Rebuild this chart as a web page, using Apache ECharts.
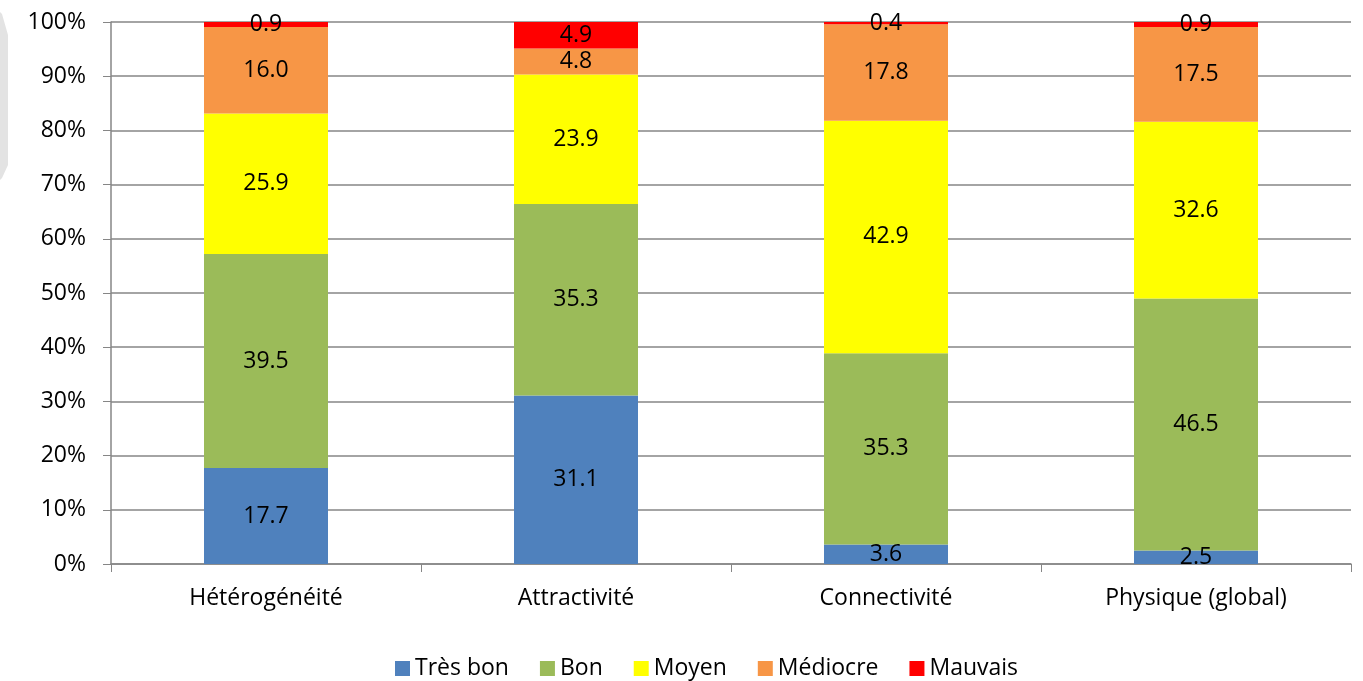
<!DOCTYPE html>
<html>
<head>
<meta charset="utf-8">
<script src="https://cdn.jsdelivr.net/npm/echarts@6/dist/echarts.min.js"></script>
<style>
  html, body { margin: 0; padding: 0; background: #fff; }
  #chart { width: 1363px; height: 681px; }
</style>
</head>
<body>
<div id="chart"></div>
<script>
var categories = ['Hétérogénéité', 'Attractivité', 'Connectivité', 'Physique (global)'];
var tresBon = [17.7, 31.1, 3.6, 2.5];
var bon = [39.5, 35.3, 35.3, 46.5];
var moyen = [25.9, 23.9, 42.9, 32.6];
var mediocre = [16.0, 4.8, 17.8, 17.5];
var mauvais = [0.9, 4.9, 0.4, 0.9];

var seriesNames = ['Très bon', 'Bon', 'Moyen', 'Médiocre', 'Mauvais'];
var seriesData = [tresBon, bon, moyen, mediocre, mauvais];
var seriesColors = ['#4f81bd', '#9bbb59', '#ffff00', '#f79646', '#ff0000'];

var font = 'Open Sans';
var chart = echarts.init(document.getElementById('chart'));

var series = seriesNames.map(function (name, i) {
  return {
    name: name,
    type: 'bar',
    stack: 'total',
    barWidth: '40%',
    data: seriesData[i],
    itemStyle: { color: seriesColors[i] },
    label: {
      show: true,
      position: 'inside',
      color: '#000',
      fontFamily: font,
      fontSize: 23,
      formatter: function (p) { return p.value.toFixed(1); }
    }
  };
});

chart.setOption({
  animation: false,
  textStyle: { fontFamily: font },
  grid: { left: 111, right: 12, top: 22, bottom: 117 },
  legend: {
    top: 652,
    left: 390,
    itemWidth: 15,
    itemHeight: 15,
    itemGap: 31,
    icon: 'rect',
    textStyle: { color: '#000', fontSize: 23, fontFamily: font },
    data: seriesNames
  },
  xAxis: {
    type: 'category',
    data: categories,
    axisLine: { lineStyle: { color: '#868686', width: 1.5 } },
    axisTick: { show: true, length: 8, lineStyle: { color: '#868686' } },
    axisLabel: { color: '#000', fontSize: 23, margin: 23, fontFamily: font }
  },
  yAxis: {
    type: 'value',
    min: 0,
    max: 100,
    interval: 10,
    axisLine: { show: true, lineStyle: { color: '#868686', width: 1.5 } },
    axisTick: { show: true, length: 8, lineStyle: { color: '#868686' } },
    axisLabel: { color: '#000', fontSize: 23, margin: 25, fontFamily: font, formatter: '{value}%' },
    splitLine: { lineStyle: { color: '#868686', width: 1.5 } }
  },
  graphic: [{
    type: 'polygon',
    shape: { points: [[0, 12], [2, 14], [8, 35], [8, 165], [2, 178], [0, 180]] },
    style: { fill: '#e3e3e3' },
    silent: true
  }],
  series: series
});
</script>
</body>
</html>
